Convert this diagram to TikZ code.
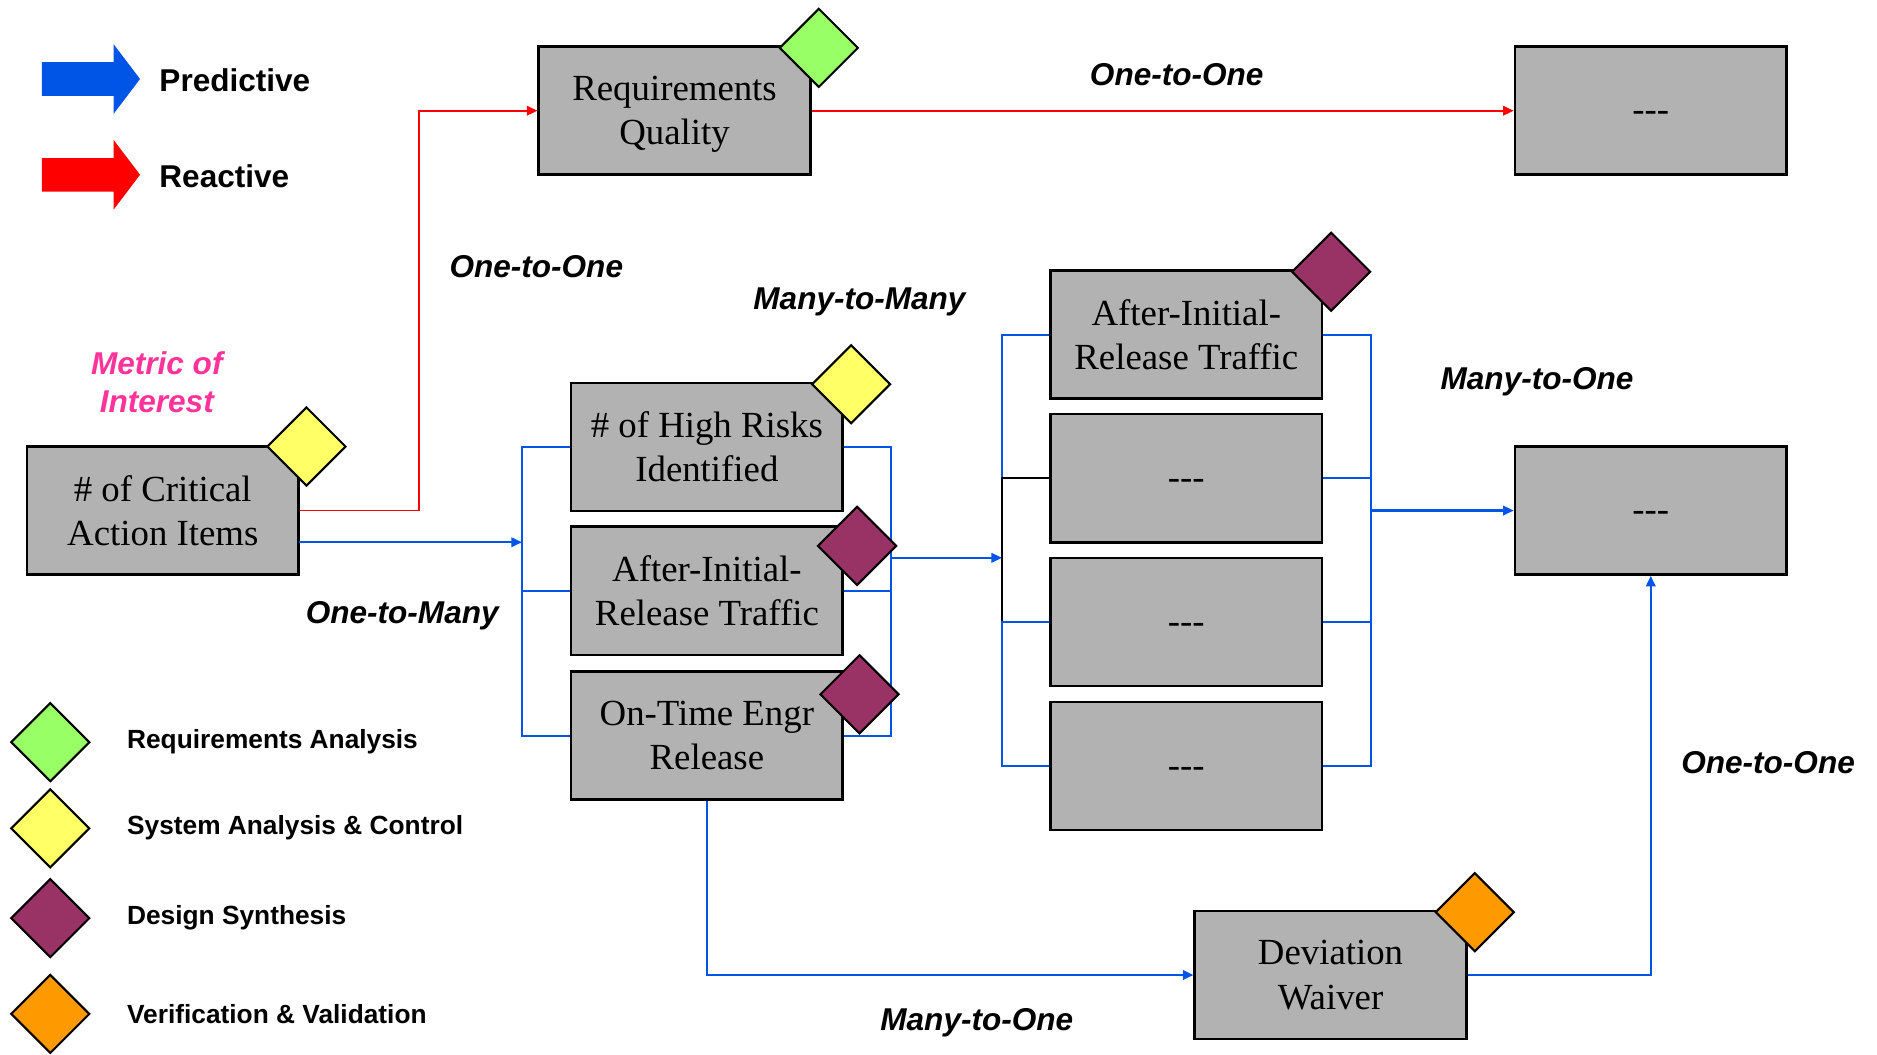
\documentclass[tikz,border=0pt]{standalone}
\usepackage{fontspec}
\setmainfont{Liberation Serif}
\setsansfont{Liberation Sans}
\usetikzlibrary{arrows.meta,shapes.geometric}
\definecolor{predblue}{RGB}{0,85,230}
\definecolor{boxgray}{RGB}{178,178,178}
\definecolor{reqgreen}{RGB}{153,255,102}
\definecolor{sysyellow}{RGB}{255,255,102}
\definecolor{dsnpurple}{RGB}{153,51,102}
\definecolor{vvorange}{RGB}{255,153,0}
\definecolor{metricpink}{RGB}{255,51,153}
\newcommand{\nodash}{\rule{0pt}{10.7pt}-\kern0pt-\kern0pt-}

\begin{document}
\begin{tikzpicture}[x=0.02cm,y=-0.02cm,>={Triangle[length=5pt,width=4.5pt]},
  metric/.style={draw,line width=1.2pt,fill=boxgray,minimum width=4.54cm,minimum height=2.14cm,
    align=center,inner sep=0pt,font=\fontsize{17.5}{21}\selectfont},
  tag/.style={diamond,draw,line width=1pt,inner sep=0pt,aspect=1,minimum width=1.32cm,minimum height=1.32cm},
  rel/.style={anchor=base,font=\sffamily\bfseries\itshape\fontsize{15}{18}\selectfont},
  kind/.style={anchor=west,font=\sffamily\bfseries\fontsize{15}{18}\selectfont},
  legend/.style={anchor=base west,font=\sffamily\bfseries\fontsize{12.5}{15}\selectfont},
  predictive/.style={predblue,line width=1pt},
  reactive/.style={red,line width=0.9pt}]
\useasboundingbox (0,0) rectangle (1568,881);

% legend: arrows
\fill[predblue] (35,52) -- (95,52) -- (95,37) -- (117,66) -- (95,95) -- (95,80) -- (35,80) -- cycle;
\fill[red] (35,132) -- (95,132) -- (95,117) -- (117,146) -- (95,175) -- (95,160) -- (35,160) -- cycle;
\node[kind] (pred) at (127,67) {Predictive};
\node[kind] (reac) at (127,147) {Reactive};

% legend: activities
\node[tag,fill=reqgreen] (lg1) at (42,620) {};
\node[tag,fill=sysyellow] (lg2) at (42,692) {};
\node[tag,fill=dsnpurple] (lg3) at (42,767) {};
\node[tag,fill=vvorange] (lg4) at (42,847) {};
\node[legend] (lt1) at (100,625) {Requirements Analysis};
\node[legend] (lt2) at (100,697) {System Analysis \& Control};
\node[legend] (lt3) at (100,772) {Design Synthesis};
\node[legend] (lt4) at (100,855) {Verification \& Validation};

% metrics
\node[metric] (crit) at (136,426.5) {\# of Critical\\Action Items};
\node[metric] (reqq) at (563.5,92.5) {Requirements\\\smash{Quality}};
\node[metric] (topright) at (1379,92.5) {\nodash};
\node[metric] (risks) at (590.5,373.5) {\# of High Risks\\Identified};
\node[metric] (airt1) at (590.5,493.5) {After-Initial-\\Release Traffic};
\node[metric] (otime) at (590.5,614.5) {On-Time Engr\\Release};
\node[metric] (airt2) at (991,279.5) {After-Initial-\\Release Traffic};
\node[metric] (dashb) at (991,399.5) {\nodash};
\node[metric] (dashc) at (991,519.5) {\nodash};
\node[metric] (dashd) at (991,640) {\nodash};
\node[metric] (midright) at (1379,426.5) {\nodash};
\node[metric] (dev) at (1111.5,814.5) {Deviation\\Waiver};

\node[font=\sffamily\bfseries\itshape\fontsize{15}{18}\selectfont,text=metricpink,align=center] (moi) at (131,319) {Metric of\\Interest};

% bracket positions
\coordinate (rx) at (350,0);
\coordinate (lb) at (436,0);
\coordinate (rb) at (744,0);
\coordinate (cl) at (837,0);
\coordinate (cr) at (1145,0);
\coordinate (critout) at (250,453);
\coordinate (midout) at (744,466);

% reactive links
\draw[reactive,->] (crit.east) -| (rx |- reqq.west) -- (reqq.west);
\draw[reactive,->] (reqq.east) -- (topright.west);

% predictive links
\draw[predictive,->] (critout) -- (critout -| lb);
\draw[predictive] (risks.west) -- (risks.west -| lb) -- (otime.west -| lb) -- (otime.west);
\draw[predictive] (airt1.west) -- (airt1.west -| lb);
\draw[predictive] (risks.east) -- (risks.east -| rb) -- (otime.east -| rb) -- (otime.east);
\draw[predictive] (airt1.east) -- (airt1.east -| rb);
\draw[predictive,->] (midout) -- (midout -| cl);
\draw[predictive] (airt2.west) -- (airt2.west -| cl) -- (dashb.west -| cl);
\draw[line width=1pt] (dashb.west) -- (dashb.west -| cl) -- (dashc.west -| cl);
\draw[predictive] (dashc.west) -- (dashc.west -| cl) -- (dashd.west -| cl) -- (dashd.west);
\draw[predictive] (airt2.east) -- (airt2.east -| cr) -- (dashd.east -| cr) -- (dashd.east);
\draw[predictive] (dashb.east) -- (dashb.east -| cr);
\draw[predictive] (dashc.east) -- (dashc.east -| cr);
\draw[predictive,->] (midright.west -| cr) -- (midright.west);
\draw[predictive,->] (otime.south) |- (dev.west);
\draw[predictive,->] (dev.east) -| (midright.south);

% activity tags
\node[tag,fill=reqgreen] (t1) at (684,40) {};
\node[tag,fill=sysyellow] (t2) at (256,373) {};
\node[tag,fill=sysyellow] (t3) at (711,321) {};
\node[tag,fill=dsnpurple] (t4) at (716,456) {};
\node[tag,fill=dsnpurple] (t5) at (718,580) {};
\node[tag,fill=dsnpurple] (t6) at (1112,227) {};
\node[tag,fill=vvorange] (t7) at (1232,762) {};

% relation labels
\node[rel] (r1) at (983,71.5) {One-to-One};
\node[rel] (r2) at (448,231.5) {One-to-One};
\node[rel] (r3) at (718,258.5) {Many-to-Many};
\node[rel] (r4) at (1284,325.5) {Many-to-One};
\node[rel] (r5) at (336,520.5) {One-to-Many};
\node[rel] (r6) at (1477,646.5) {One-to-One};
\node[rel] (r7) at (816,860.5) {Many-to-One};
\end{tikzpicture}
\end{document}
